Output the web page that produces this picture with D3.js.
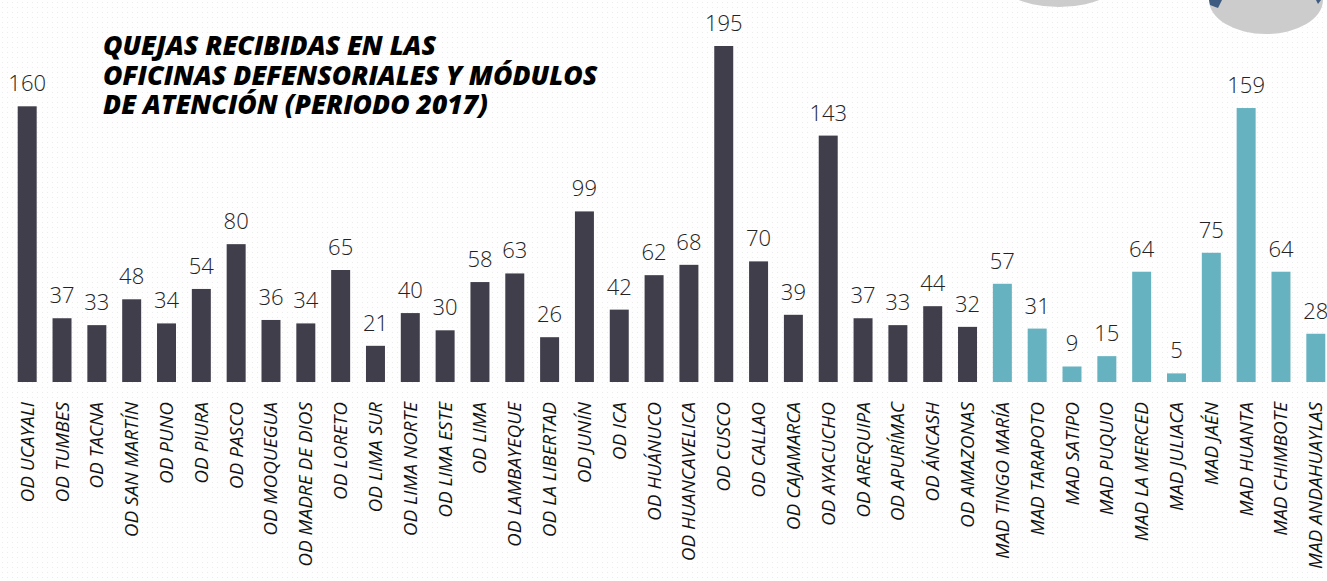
<!DOCTYPE html>
<html>
<head>
<meta charset="utf-8">
<script src="https://cdn.jsdelivr.net/npm/d3@7"></script>
<style>
  html, body { margin: 0; padding: 0; background: #fff; }
  svg { display: block; }
</style>
</head>
<body>
<svg id="quejas" width="1327" height="581"></svg>
<script>
// offices (OD = oficina defensorial, MAD = módulo de atención)
let categories = ["OD UCAYALI", "OD TUMBES", "OD TACNA", "OD SAN MARTÍN", "OD PUNO", "OD PIURA",
    "OD PASCO", "OD MOQUEGUA", "OD MADRE DE DIOS", "OD LORETO", "OD LIMA SUR", "OD LIMA NORTE",
    "OD LIMA ESTE", "OD LIMA", "OD LAMBAYEQUE", "OD LA LIBERTAD", "OD JUNÍN", "OD ICA",
    "OD HUÁNUCO", "OD HUANCAVELICA", "OD CUSCO", "OD CALLAO", "OD CAJAMARCA", "OD AYACUCHO",
    "OD AREQUIPA", "OD APURÍMAC", "OD ÁNCASH", "OD AMAZONAS",
    "MAD TINGO MARÍA", "MAD TARAPOTO", "MAD SATIPO", "MAD PUQUIO", "MAD LA MERCED",
    "MAD JULIACA", "MAD JAÉN", "MAD HUANTA", "MAD CHIMBOTE", "MAD ANDAHUAYLAS"];

let quejas = [160, 37, 33, 48, 34, 54, 80, 36, 34, 65, 21, 40, 30, 58, 63, 26, 99, 42,
    62, 68, 195, 70, 39, 143, 37, 33, 44, 32,
    57, 31, 9, 15, 64, 5, 75, 159, 64, 28];

let titleLines = ["QUEJAS RECIBIDAS EN LAS", "OFICINAS DEFENSORIALES Y MÓDULOS", "DE ATENCIÓN (PERIODO 2017)"];

let data = categories.map(function(c, i) { return {name: c, value: quejas[i]}; });

let svg = d3.select("#quejas");

// dotted paper background
let defs = svg.append("defs");
let pat = defs.append("pattern")
    .attr("id", "dots")
    .attr("width", 5)
    .attr("height", 5)
    .attr("patternUnits", "userSpaceOnUse");
pat.append("rect").attr("width", 5).attr("height", 5).attr("fill", "#fefefe");
pat.append("rect").attr("x", 2).attr("y", 2).attr("width", 1).attr("height", 1).attr("fill", "#ececec");

svg.append("rect")
    .attr("width", 1327)
    .attr("height", 581)
    .attr("fill", "url(#dots)");

// bits of illustrations cut off at the top edge
svg.append("ellipse")
    .attr("cx", 1059).attr("cy", -30).attr("rx", 69).attr("ry", 37)
    .attr("fill", "#cccccc");
svg.append("ellipse")
    .attr("cx", 1266).attr("cy", 0).attr("rx", 57).attr("ry", 34)
    .attr("fill", "#cccccc");
svg.append("path")
    .attr("d", "M1209,0 L1222,0 L1218,8 L1210,5 Z")
    .attr("fill", "#3d5a80");
svg.append("path")
    .attr("d", "M1316,0 L1321,0 L1318,4 Z")
    .attr("fill", "#3d5a80");

let x = d3.scaleBand()
    .domain(categories)
    .range([9, 1334])
    .paddingInner(0.455)
    .paddingOuter(0.25);

let y = d3.scaleLinear()
    .domain([0, 195])
    .range([382, 46]);

let color = function(name) {
    return name.indexOf("MAD") === 0 ? "#67b2c1" : "#403e4b";
};

svg.selectAll("rect.bar")
    .data(data)
    .join("rect")
    .attr("class", "bar")
    .attr("x", function(d) { return x(d.name); })
    .attr("y", function(d) { return y(d.value); })
    .attr("width", x.bandwidth())
    .attr("height", function(d) { return y(0) - y(d.value); })
    .attr("fill", function(d) { return color(d.name); });

svg.selectAll("text.value")
    .data(data)
    .join("text")
    .attr("class", "value")
    .attr("x", function(d) { return x(d.name) + x.bandwidth() / 2; })
    .attr("y", function(d) { return y(d.value) - 15; })
    .attr("text-anchor", "middle")
    .style("font-family", "'Open Sans', sans-serif")
    .style("font-weight", 300)
    .style("font-size", "22px")
    .style("fill", "#222")
    .text(function(d) { return d.value; });

// rotated category labels
svg.selectAll("text.cat")
    .data(categories)
    .join("text")
    .attr("class", "cat")
    .attr("transform", function(d) {
        return `translate(${x(d) + x.bandwidth() / 2 + 6.5}, 402) rotate(-90)`;
    })
    .attr("text-anchor", "end")
    .style("font-family", "'Open Sans', sans-serif")
    .style("font-style", "italic")
    .style("font-size", "19px")
    .style("fill", "#111")
    .text(function(d) { return d; });

// title
svg.append("g")
    .selectAll("text")
    .data(titleLines)
    .join("text")
    .attr("x", 103)
    .attr("y", function(d, i) { return 55 + i * 29.5; })
    .style("font-family", "'Open Sans', sans-serif")
    .style("font-weight", 800)
    .style("font-style", "italic")
    .style("font-size", "26.5px")
    .style("fill", "#000")
    .text(function(d) { return d; });
</script>
</body>
</html>
